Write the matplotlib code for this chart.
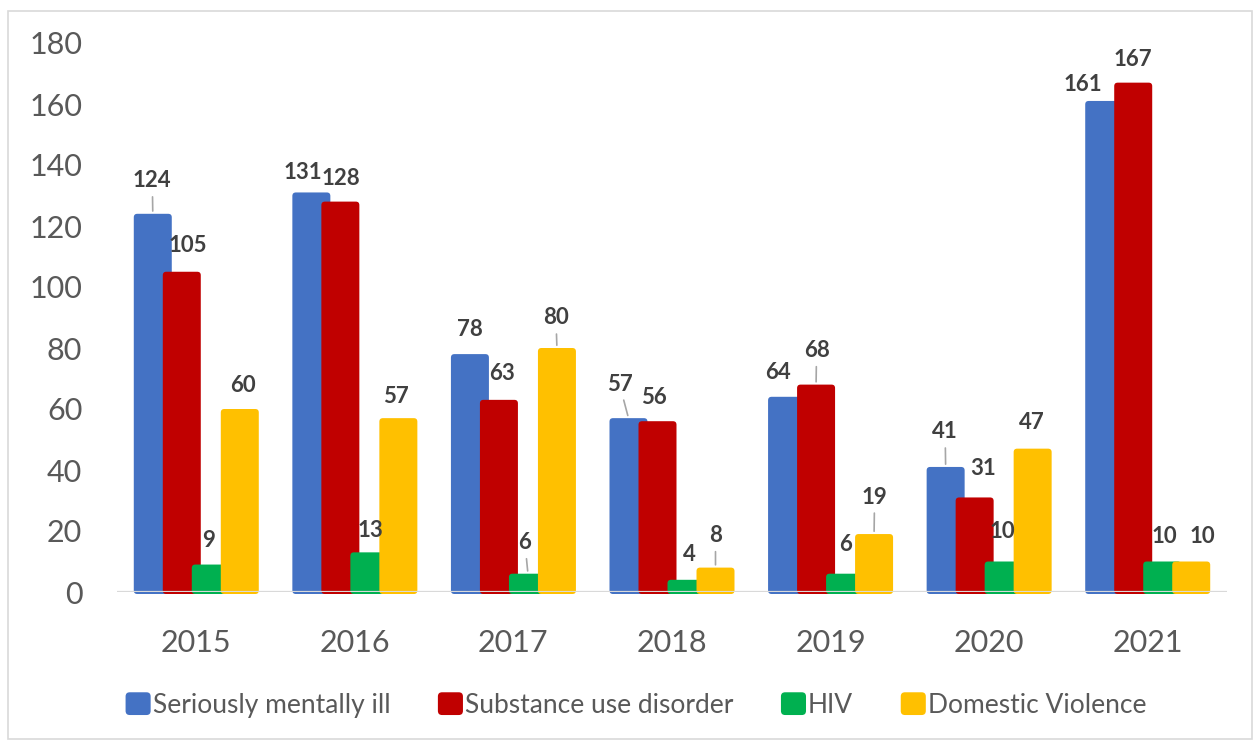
import matplotlib
matplotlib.use("Agg")
import matplotlib.pyplot as plt
from matplotlib.patches import FancyBboxPatch, Rectangle
from matplotlib.legend_handler import HandlerPatch
import numpy as np

# ---- data ----
years = ["2015", "2016", "2017", "2018", "2019", "2020", "2021"]
series_names = ["Seriously mentally ill", "Substance use disorder", "HIV", "Domestic Violence"]
seriously_mentally_ill = [124, 131, 78, 57, 64, 41, 161]
substance_use_disorder = [105, 128, 63, 56, 68, 31, 167]
hiv = [9, 13, 6, 4, 6, 10, 10]
domestic_violence = [60, 57, 80, 8, 19, 47, 10]
y_ticks = [0, 20, 40, 60, 80, 100, 120, 140, 160, 180]

# ---- styling ----
colors = ["#4472C4", "#C00000", "#00B050", "#FFC000"]
TEXT = "#595959"
LABEL = "#404040"
FONT = "Lato"

# label offsets (pixels: right, up) from the top-centre of each bar
label_offsets = [
    [(-0.5, 33), (-9, 20), (0, 25), (-9, 34), (-9, 24), (-0.5, 35), (-21.5, 16)],
    [(6, 26), (0.5, 23), (3, 26), (-4, 24), (0.5, 34), (8, 28.5), (0, 23)],
    [(-2, 24.5), (1.5, 22), (-3, 31), (3, 25), (0, 29), (-1, 29.5), (2.5, 25)],
    [(3, 24), (-2.5, 22), (-1, 30), (0, 32), (0.5, 37), (-1, 26), (11, 25)],
]
# labels that get a leader line: (series index, year index)
leaders = {(0, 0), (2, 2), (3, 2), (0, 3), (3, 3), (1, 4), (3, 4), (0, 5)}

W, H = 1256, 740
fig = plt.figure(figsize=(W / 100, H / 100), dpi=100)
fig.patch.set_facecolor("white")

# outer chart border
fig.add_artist(Rectangle((8 / W, 1 / H), 1244 / W, 728 / H, transform=fig.transFigure,
                         fill=False, edgecolor="#D9D9D9", linewidth=1.2))

ax_l, ax_r, ax_b, ax_t = 117, 1227, 592, 43
ax = fig.add_axes([ax_l / W, (H - ax_b) / H, (ax_r - ax_l) / W, (ax_b - ax_t) / H])

all_series = [seriously_mentally_ill, substance_use_disorder, hiv, domestic_violence]
x = np.arange(len(years))
bar_w = 0.2396
step = 0.1829
x_px_per_unit = (ax_r - ax_l) / len(years)
y_px_per_unit = (ax_b - ax_t) / 180.0
aspect = x_px_per_unit / y_px_per_unit
radius = 3.5 / x_px_per_unit
sink = 2.0 / y_px_per_unit

ax.set_xlim(-0.5, len(years) - 0.5)
ax.set_ylim(0, 180)

for si, (vals, col) in enumerate(zip(all_series, colors)):
    offs = (si - 1.5) * step
    bars = ax.bar(x + offs, vals, width=bar_w, color=col, zorder=2 + si)
    for bi, rect in enumerate(bars):
        bx, bw, bh = rect.get_x(), rect.get_width(), rect.get_height()
        rect.set_visible(False)
        patch = FancyBboxPatch((bx, -sink), bw, bh + sink,
                               boxstyle=f"round,pad=0,rounding_size={radius}",
                               mutation_aspect=aspect, facecolor=col, edgecolor="none",
                               zorder=2 + si, clip_on=False)
        ax.add_patch(patch)
        dx, dy = label_offsets[si][bi]
        arrow = None
        if (si, bi) in leaders:
            arrow = dict(arrowstyle="-", color="#A6A6A6", lw=1.2, shrinkA=2, shrinkB=-2)
        ax.annotate(str(vals[bi]), xy=(bx + bw / 2, bh), xytext=(dx, dy),
                    textcoords="offset pixels", ha="center", va="center",
                    fontsize=16, fontweight="bold", color=LABEL, family=FONT,
                    arrowprops=arrow, zorder=10, annotation_clip=False)

ax.axhline(0, color="#D9D9D9", linewidth=1.6, zorder=8)

for s in ax.spines.values():
    s.set_visible(False)
ax.set_xticks(x)
ax.set_xticklabels(years)
ax.set_yticks(y_ticks)
ax.tick_params(axis="both", length=0, colors=TEXT, labelsize=22)
ax.tick_params(axis="y", pad=25)
ax.tick_params(axis="x", pad=27)
for lab in ax.get_xticklabels() + ax.get_yticklabels():
    lab.set_family(FONT)
    lab.set_color(TEXT)


class RoundHandler(HandlerPatch):
    def create_artists(self, legend, orig_handle, xdescent, ydescent, width, height,
                       fontsize, trans):
        p = FancyBboxPatch((-xdescent, -ydescent), width, height,
                           boxstyle="round,pad=0,rounding_size=3",
                           facecolor=orig_handle.get_facecolor(), edgecolor="none",
                           transform=trans)
        return [p]


handles = [Rectangle((0, 0), 1, 1, facecolor=c) for c in colors]
fig.legend(handles, series_names, loc="center", bbox_to_anchor=(636 / W, 1 - 705 / H),
           ncol=4, frameon=False, prop={"family": FONT, "size": 19},
           handlelength=0.95, handleheight=0.95, handletextpad=0.08, columnspacing=1.8,
           labelcolor=TEXT, handler_map={Rectangle: RoundHandler()})

fig.savefig("out.png", dpi=100, facecolor="white")
